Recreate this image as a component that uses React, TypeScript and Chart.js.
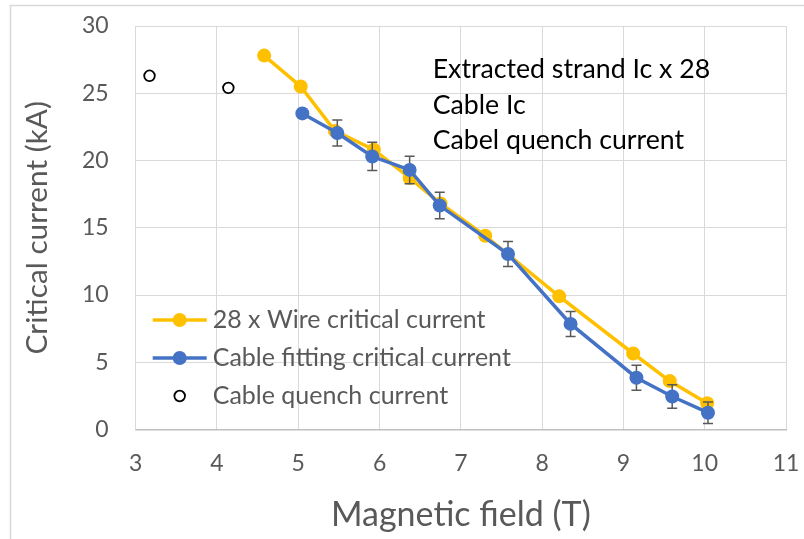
import { useEffect, useRef } from "react";
import { Chart, registerables } from "chart.js";

Chart.register(...registerables);

// ---- data ----
const wireField = [4.58, 5.03, 5.45, 5.93, 6.37, 6.75, 7.3, 8.21, 9.12, 9.57, 10.03];
const wireCurrent = [27.8, 25.5, 22.2, 20.8, 18.7, 16.8, 14.4, 9.9, 5.65, 3.6, 1.95];

const cableField = [5.05, 5.48, 5.91, 6.37, 6.74, 7.58, 8.35, 9.16, 9.6, 10.04];
const cableCurrent = [23.5, 22.05, 20.3, 19.3, 16.65, 13.05, 7.85, 3.85, 2.45, 1.25];
const cableError = [0, 0.97, 1.05, 1.02, 0.99, 0.93, 0.93, 0.93, 0.87, 0.8];

const quenchField = [3.17, 4.14];
const quenchCurrent = [26.3, 25.4];

const seriesLabels = [
  "28 x Wire critical current",
  "Cable fitting critical current",
  "Cable quench current",
];
const annotationLines = ["Extracted strand Ic x 28", "Cable Ic", "Cabel quench current"];

const xTitle = "Magnetic field (T)";
const yTitle = "Critical current (kA)";
const xMin = 3;
const xMax = 11;
const yMin = 0;
const yMax = 30;
const yStep = 5;

const FONT = "Lato, 'Liberation Sans', sans-serif";
const GRAY_TEXT = "#595959";
const GRID = "#d9d9d9";
const YELLOW = "#FFC000";
const BLUE = "#4472C4";

const framePlugin = {
  id: "frame",
  beforeDraw(chart: any) {
    const ctx = chart.ctx;
    ctx.save();
    ctx.fillStyle = "#ffffff";
    ctx.fillRect(0, 0, chart.width, chart.height);
    ctx.strokeStyle = GRID;
    ctx.lineWidth = 1.5;
    ctx.strokeRect(10.5, 5.5, chart.width + 20, chart.height + 20);
    ctx.restore();
  },
};

const errorBarPlugin = {
  id: "errorBars",
  beforeDatasetDraw(chart: any, args: any) {
    if (args.index !== 1) return;
    const ctx = chart.ctx;
    const xs = chart.scales.x;
    const ys = chart.scales.y;
    ctx.save();
    ctx.strokeStyle = GRAY_TEXT;
    ctx.lineWidth = 1.5;
    cableField.forEach((f, i) => {
      const e = cableError[i];
      if (!e) return;
      const px = xs.getPixelForValue(f);
      const top = ys.getPixelForValue(cableCurrent[i] + e);
      const bot = ys.getPixelForValue(cableCurrent[i] - e);
      ctx.beginPath();
      ctx.moveTo(px, top);
      ctx.lineTo(px, bot);
      ctx.moveTo(px - 5, top);
      ctx.lineTo(px + 5, top);
      ctx.moveTo(px - 5, bot);
      ctx.lineTo(px + 5, bot);
      ctx.stroke();
    });
    ctx.restore();
  },
};

const overlayPlugin = {
  id: "overlay",
  afterDraw(chart: any) {
    const ctx = chart.ctx;
    const area = chart.chartArea;
    ctx.save();
    // annotation text
    ctx.fillStyle = "#000000";
    ctx.font = `26.7px ${FONT}`;
    ctx.textAlign = "left";
    ctx.textBaseline = "alphabetic";
    annotationLines.forEach((t, i) => {
      ctx.fillText(t, area.left + 297, area.top + 52 + i * 35.5);
    });
    // legend
    const lx1 = area.left + 17;
    const lx2 = area.left + 71;
    const lcx = (lx1 + lx2) / 2;
    const ly0 = area.top + 294;
    ctx.font = `25px ${FONT}`;
    ctx.textBaseline = "middle";
    seriesLabels.forEach((label, i) => {
      const ds = chart.data.datasets[i];
      const y = ly0 + i * 38;
      if (i < 2) {
        ctx.strokeStyle = ds.borderColor;
        ctx.lineWidth = 3.5;
        ctx.beginPath();
        ctx.moveTo(lx1, y);
        ctx.lineTo(lx2, y);
        ctx.stroke();
        ctx.fillStyle = ds.borderColor;
        ctx.beginPath();
        ctx.arc(lcx, y, 7, 0, Math.PI * 2);
        ctx.fill();
      } else {
        ctx.fillStyle = "#ffffff";
        ctx.strokeStyle = "#000000";
        ctx.lineWidth = 1.8;
        ctx.beginPath();
        ctx.arc(lcx, y, 5.3, 0, Math.PI * 2);
        ctx.fill();
        ctx.stroke();
      }
      ctx.fillStyle = GRAY_TEXT;
      ctx.fillText(label, area.left + 77, y);
    });
    ctx.restore();
  },
};

export default function App() {
  const ref = useRef<HTMLCanvasElement | null>(null);

  useEffect(() => {
    document.body.style.margin = "0";
    const canvas = ref.current;
    if (!canvas) return;
    const chart = new Chart(canvas, {
      type: "line",
      data: {
        datasets: [
          {
            label: seriesLabels[0],
            data: wireField.map((x, i) => ({ x, y: wireCurrent[i] })),
            borderColor: YELLOW,
            backgroundColor: YELLOW,
            borderWidth: 3.5,
            pointRadius: 7,
            pointBorderWidth: 0,
            pointBackgroundColor: YELLOW,
            showLine: true,
            order: 3,
          },
          {
            label: seriesLabels[1],
            data: cableField.map((x, i) => ({ x, y: cableCurrent[i] })),
            borderColor: BLUE,
            backgroundColor: BLUE,
            borderWidth: 3.5,
            pointRadius: 7,
            pointBorderWidth: 0,
            pointBackgroundColor: BLUE,
            showLine: true,
            order: 1,
          },
          {
            label: seriesLabels[2],
            data: quenchField.map((x, i) => ({ x, y: quenchCurrent[i] })),
            borderColor: "#000000",
            backgroundColor: "#ffffff",
            pointBackgroundColor: "#ffffff",
            pointBorderColor: "#000000",
            pointBorderWidth: 1.8,
            pointRadius: 5.3,
            showLine: false,
            order: 0,
          },
        ],
      },
      options: {
        animation: false,
        responsive: false,
        devicePixelRatio: 1,
        events: [],
        layout: { padding: { left: 10, top: 26, right: 18, bottom: 0 } },
        plugins: {
          legend: { display: false },
          tooltip: { enabled: false },
        },
        scales: {
          x: {
            type: "linear",
            min: xMin,
            max: xMax,
            ticks: {
              stepSize: 1,
              color: GRAY_TEXT,
              font: { family: FONT, size: 23 },
              padding: 20,
            },
            grid: { color: GRID, lineWidth: 1, drawTicks: false },
            border: { color: "#bfbfbf", width: 1.5 },
            title: {
              display: true,
              text: xTitle,
              color: GRAY_TEXT,
              font: { family: FONT, size: 34 },
              padding: { top: 0, bottom: 3.6 },
            },
            afterFit(s: any) {
              s.height = 109.5;
              s.paddingLeft = 0;
              s.paddingRight = 0;
            },
          },
          y: {
            type: "linear",
            min: yMin,
            max: yMax,
            ticks: {
              stepSize: yStep,
              color: GRAY_TEXT,
              font: { family: FONT, size: 23 },
              padding: 27,
            },
            grid: { color: GRID, lineWidth: 1, drawTicks: false },
            border: { color: GRID, width: 1 },
            title: {
              display: true,
              text: yTitle,
              color: GRAY_TEXT,
              font: { family: FONT, size: 29.8 },
              padding: { top: 9.1, bottom: 0 },
            },
            afterFit(s: any) {
              s.width = 125.7;
              s.paddingTop = 0;
              s.paddingBottom = 0;
            },
          },
        },
      },
      plugins: [framePlugin, errorBarPlugin, overlayPlugin],
    } as any);
    return () => chart.destroy();
  }, []);

  return (
    <div style={{ width: 804, height: 539 }}>
      <canvas ref={ref} width={804} height={539} style={{ display: "block", width: 804, height: 539 }} />
    </div>
  );
}
